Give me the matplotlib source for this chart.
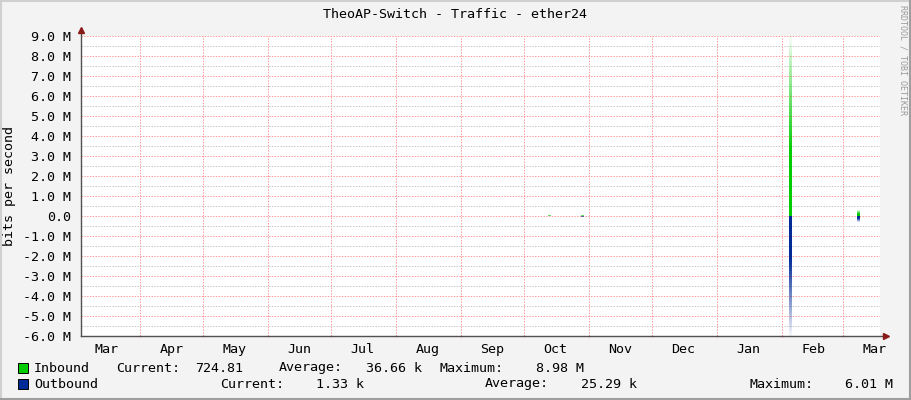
import datetime as dt
import numpy as np
import matplotlib
matplotlib.use("Agg")
import matplotlib.pyplot as plt
import matplotlib.dates as mdates
from matplotlib.colors import to_rgb
from matplotlib.patches import Rectangle
from matplotlib.lines import Line2D

plt.rcParams['font.family'] = ['DejaVu Sans Mono', 'DejaVu Sans']

# Data (bits per second)
start = dt.datetime(2023, 3, 4)
end = dt.datetime(2024, 3, 18, 14)
spike_dates = ['2023-10-13', '2023-10-29', '2024-02-05', '2024-03-08']
inbound_bps = [0.04e6, 0.03e6, 8.98e6, 0.28e6]
outbound_bps = [0.0, 0.04e6, 6.01e6, 0.30e6]

month_starts = [dt.datetime(2023, m, 1) for m in range(4, 13)] + [dt.datetime(2024, 1, 1), dt.datetime(2024, 2, 1), dt.datetime(2024, 3, 1)]
month_labels = ['Mar', 'Apr', 'May', 'Jun', 'Jul', 'Aug', 'Sep', 'Oct', 'Nov', 'Dec', 'Jan', 'Feb', 'Mar']
label_dates = [dt.datetime(2023, m, 16) for m in range(3, 13)] + [dt.datetime(2024, m, 16) for m in (1, 2, 3)]

legend_in = ['Inbound', 'Current:', '724.81', 'Average:', '36.66 k', 'Maximum:', '8.98 M']
legend_out = ['Outbound', 'Current:', '1.33 k', 'Average:', '25.29 k', 'Maximum:', '6.01 M']

IN_COLOR = '#00cc00'
OUT_COLOR = '#002a97'
W, H = 911, 400
FS = 9.6


def gradient_bar(ax, day, value, color, sign):
    # bar from 0 to value that fades out towards its far end
    n = 200
    frac = np.linspace(0, 1, n)
    alpha = np.clip(1 - (frac - 0.35) / 0.65, 0.04, 1) ** 0.9
    img = np.zeros((n, 1, 4))
    img[:, 0, :3] = to_rgb(color)
    img[:, 0, 3] = alpha
    x = mdates.date2num(dt.datetime.fromisoformat(day))
    if sign > 0:
        ext = (x - 0.6, x + 0.6, 0, value)
    else:
        ext = (x - 0.6, x + 0.6, 0, -value)
    ax.imshow(img, extent=ext, origin='lower', aspect='auto', interpolation='bilinear', zorder=3)


fig = plt.figure(figsize=(W / 100, H / 100), dpi=100, facecolor='#f3f3f3')
ax = fig.add_axes([81 / W, 64 / H, 799 / W, 300 / H])
ax.set_facecolor('white')

for d, v in zip(spike_dates, inbound_bps):
    if v > 0:
        gradient_bar(ax, d, v, IN_COLOR, 1)
for d, v in zip(spike_dates, outbound_bps):
    if v > 0:
        gradient_bar(ax, d, v, OUT_COLOR, -1)

ax.set_xlim(start, end)
ax.set_ylim(-6e6, 9e6)

# grid
ax.set_xticks(month_starts)
ax.set_xticklabels([])
ax.set_xticks(label_dates, minor=True)
ax.set_xticklabels(month_labels, minor=True, fontsize=FS)
ax.tick_params(axis='x', which='minor', length=0, pad=5)
ax.tick_params(axis='x', which='major', length=2, color='#ff8080', direction='inout')

yt = np.arange(-6, 10) * 1e6
ax.set_yticks(yt)
ax.set_yticklabels(['0.0' if v == 0 else '%.1f M' % (v / 1e6) for v in yt], fontsize=FS)
ax.set_yticks(np.arange(-5.5, 9, 1) * 1e6, minor=True)
ax.tick_params(axis='y', which='both', length=0, pad=7)

ax.grid(True, which='major', axis='both', color='#ff9a9a', linestyle=(0, (1.4, 1.4)), linewidth=0.72, zorder=1)
ax.grid(True, which='minor', axis='y', color='#c8c8c8', linestyle=(0, (1.4, 1.4)), linewidth=0.72, zorder=1)
ax.grid(False, which='minor', axis='x')
ax.set_axisbelow(True)

for s in ('top', 'right', 'bottom', 'left'):
    ax.spines[s].set_visible(False)

# axis lines with arrow heads like rrdtool
ax.add_line(Line2D([0, 1.006], [0, 0], transform=ax.transAxes, color='#505050', lw=1, clip_on=False, zorder=5))
ax.add_line(Line2D([0, 0], [0, 1.02], transform=ax.transAxes, color='#505050', lw=1, clip_on=False, zorder=5))
ax.plot([1.007], [0], marker='>', color='#8b1a1a', markersize=5, transform=ax.transAxes, clip_on=False, zorder=6)
ax.plot([0], [1.02], marker='^', color='#8b1a1a', markersize=5, transform=ax.transAxes, clip_on=False, zorder=6)

ax.set_ylabel('bits per second', fontsize=FS)
ax.yaxis.set_label_coords(-65 / 799, 0.5)

fig.text(455 / W, 1 - 15 / H, 'TheoAP-Switch - Traffic - ether24', ha='center', va='center', fontsize=FS)
fig.text(903 / W, 1 - 5 / H, 'RRDTOOL / TOBI OETIKER', ha='center', va='top', rotation=-90, fontsize=6, color='#9a9a9a')

# legend
xs_in = [34, 116, 195, 279, 366, 440, 536]
xs_out = [34, 220, 316, 485, 581, 750, 845]
for txt, x in zip(legend_in, xs_in):
    fig.text(x / W, 1 - 368 / H, txt, ha='left', va='center', fontsize=FS)
for txt, x in zip(legend_out, xs_out):
    fig.text(x / W, 1 - 384 / H, txt, ha='left', va='center', fontsize=FS)
fig.patches.append(Rectangle((18 / W, 1 - 373 / H), 10 / W, 10 / H, transform=fig.transFigure,
                             facecolor=IN_COLOR, edgecolor='black', lw=0.7))
fig.patches.append(Rectangle((18 / W, 1 - 389 / H), 10 / W, 10 / H, transform=fig.transFigure,
                             facecolor=OUT_COLOR, edgecolor='black', lw=0.7))

# frame around the image
fig.add_artist(Line2D([0, 1], [1 - 1 / H, 1 - 1 / H], transform=fig.transFigure, color='#d0d0d0', lw=1.5))
fig.add_artist(Line2D([1 / W, 1 / W], [0, 1], transform=fig.transFigure, color='#d0d0d0', lw=1.5))
fig.add_artist(Line2D([0, 1], [1 / H, 1 / H], transform=fig.transFigure, color='#9e9e9e', lw=1.5))
fig.add_artist(Line2D([1 - 1 / W, 1 - 1 / W], [0, 1], transform=fig.transFigure, color='#9e9e9e', lw=1.5))

fig.savefig('out.png', dpi=100, facecolor=fig.get_facecolor())
